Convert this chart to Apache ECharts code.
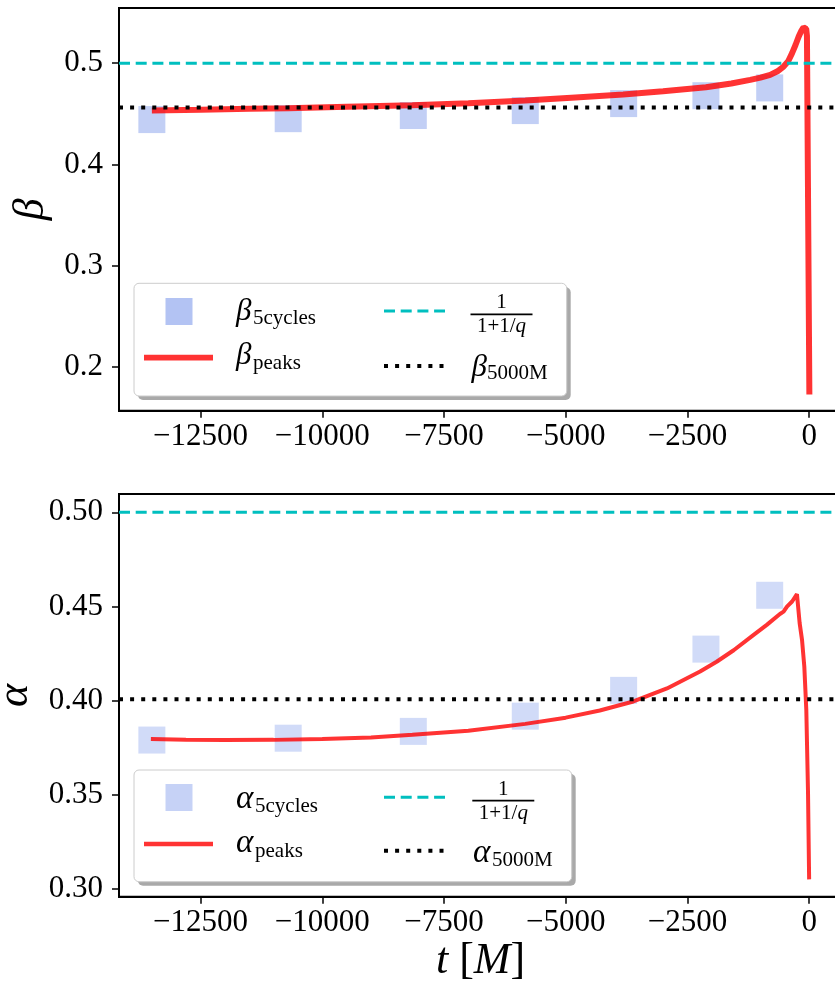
<!DOCTYPE html>
<html><head><meta charset="utf-8">
<script src="https://cdn.jsdelivr.net/npm/echarts@6/dist/echarts.min.js"></script>
<style>html,body{margin:0;padding:0;background:#fff}#c{width:835px;height:987px}</style>
</head><body><div id="c"></div>
<script>
// ---------------- data ----------------
const xTicks = [-12500, -10000, -7500, -5000, -2500, 0];
const betaTicks = [0.2, 0.3, 0.4, 0.5];
const alphaTicks = [0.30, 0.35, 0.40, 0.45, 0.50];

const tCycles = [-13500, -10700, -8130, -5830, -3810, -2120, -810];
const beta5cycles = [0.4443, 0.4452, 0.4483, 0.4532, 0.4601, 0.4679, 0.4756];
const alpha5cycles = [0.3790, 0.3800, 0.3836, 0.3917, 0.4054, 0.4273, 0.4559];

const tBetaPeaks = [-13500, -12500, -11500, -10700, -9500, -8150, -7000, -5830, -4800, -3820, -3000, -2120, -1600, -1210, -1000, -800, -650, -525, -430, -350, -280, -215, -160, -115, -85, -60, -45, 5];
const betaPeaks = [0.4532, 0.4540, 0.4549, 0.4556, 0.4570, 0.4585, 0.4605, 0.4632, 0.4662, 0.4690, 0.4722, 0.4763, 0.4800, 0.4835, 0.4858, 0.4885, 0.4920, 0.4967, 0.5020, 0.5100, 0.5180, 0.5263, 0.5320, 0.5355, 0.5362, 0.5340, 0.5270, 0.1726];

const tAlphaPeaks = [-13520, -12800, -12000, -11000, -10000, -9000, -8150, -7000, -5830, -5000, -4300, -3610, -2920, -2240, -1900, -1550, -1140, -870, -600, -525, -455, -350, -250, -195, -146, -99, -58, -23, 0];
const alphaPeaks = [0.3795, 0.3792, 0.3790, 0.3791, 0.3795, 0.3804, 0.3818, 0.3840, 0.3876, 0.3909, 0.3947, 0.3995, 0.4064, 0.4154, 0.4206, 0.4267, 0.4349, 0.4402, 0.4460, 0.4472, 0.4499, 0.4526, 0.4565, 0.4411, 0.4322, 0.4180, 0.3950, 0.3510, 0.3050];

const betaQ = 0.5, beta5000M = 0.4562;
const alphaQ = 0.5, alpha5000M = 0.4007;

// ---------------- styling ----------------
const SERIF = '"Liberation Serif", "Times New Roman", serif';
const X_MIN = -14175, X_MAX = 675;
const RED = 'rgba(255,0,0,0.8)', CYAN = '#00bfbf';
const SQ_TOP = 'rgba(65,105,225,0.4)', SQ_BOT = 'rgba(65,105,225,0.3)';
const minus = v => String(v).replace('-', '\u2212');

function xAxis(gi, withName) {
  const a = {
    type: 'value', gridIndex: gi, min: X_MIN, max: X_MAX,
    axisLine: { show: true, onZero: false, lineStyle: { color: '#000', width: 2 } },
    axisTick: { show: true, length: 7, customValues: xTicks, lineStyle: { color: '#000', width: 1.5 } },
    axisLabel: { customValues: xTicks, formatter: v => minus(v), fontFamily: SERIF, fontSize: 31, color: '#000', margin: 11 },
    splitLine: { show: false }
  };
  if (withName) {
    a.name = '{i|t} {r|[}{i|M}{r|]}';
    a.nameLocation = 'middle';
    a.nameGap = 35;
    a.nameTextStyle = {
      color: '#000', fontFamily: SERIF, fontSize: 44,
      rich: {
        i: { fontFamily: SERIF, fontStyle: 'italic', fontSize: 44, color: '#000' },
        r: { fontFamily: SERIF, fontSize: 44, color: '#000' }
      }
    };
  }
  return a;
}
function yAxis(gi, min, max, ticks, dec, name, gap) {
  return {
    type: 'value', gridIndex: gi, min, max,
    name, nameLocation: 'middle', nameGap: gap,
    nameTextStyle: { fontFamily: SERIF, fontStyle: 'italic', fontSize: 44, color: '#000' },
    axisLine: { show: true, onZero: false, lineStyle: { color: '#000', width: 2 } },
    axisTick: { show: true, length: 7, customValues: ticks, lineStyle: { color: '#000', width: 1.5 } },
    axisLabel: { customValues: ticks, formatter: v => v.toFixed(dec), fontFamily: SERIF, fontSize: 31, color: '#000', margin: 16 },
    splitLine: { show: false }
  };
}
function hline(xi, yi, v, color, width, dash, name) {
  return {
    type: 'line', name, xAxisIndex: xi, yAxisIndex: yi, silent: true,
    symbol: 'none', data: [[X_MIN, v], [X_MAX, v]],
    lineStyle: { color, width, type: dash, cap: 'butt' }
  };
}

// ---------------- legend (drawn as graphics) ----------------
function T(x, base, text, size, italic, align) {
  return {
    type: 'text', silent: true, z: 102,
    style: {
      text, x, y: base - 0.3375 * size,
      font: (italic ? 'italic ' : '') + size + 'px ' + SERIF,
      fill: '#000', align: align || 'left', verticalAlign: 'middle',
      textAlign: align || 'left', textVerticalAlign: 'middle'
    }
  };
}
function legend(c) {
  const els = [];
  els.push({ type: 'rect', silent: true, z: 100, shape: { x: c.bx + 4, y: c.by + 4, width: c.bw, height: c.bh, r: 5 }, style: { fill: '#a9a9a9' } });
  els.push({ type: 'rect', silent: true, z: 101, shape: { x: c.bx, y: c.by, width: c.bw, height: c.bh, r: 5 }, style: { fill: '#fff', stroke: '#cccccc', lineWidth: 1 } });
  els.push({ type: 'rect', silent: true, z: 102, shape: { x: 165.5, y: c.sqY, width: 27, height: 27 }, style: { fill: c.sq } });
  els.push({ type: 'line', silent: true, z: 102, shape: { x1: 144, y1: c.redY, x2: 213, y2: c.redY }, style: { stroke: RED, lineWidth: c.redW } });
  els.push({ type: 'line', silent: true, z: 102, shape: { x1: 384, y1: c.cyY, x2: 445, y2: c.cyY }, style: { stroke: CYAN, lineWidth: 3, lineDash: [11, 5.7] } });
  els.push({ type: 'line', silent: true, z: 102, shape: { x1: 384, y1: c.dotY, x2: 445, y2: c.dotY }, style: { stroke: '#000', lineWidth: 4, lineDash: [4, 7.1] } });
  els.push(T(236, c.l1, c.g, c.gs, true));
  els.push(T(c.subX, c.l1 + 3.5, '5cycles', 21, false));
  els.push(T(236, c.l2, c.g, c.gs, true));
  els.push(T(c.subX, c.l2 + 4.5, 'peaks', 21, false));
  els.push(T(c.fx, c.numB, '1', 21, false, 'center'));
  els.push({ type: 'line', silent: true, z: 102, shape: { x1: c.fx - 31, y1: c.barY, x2: c.fx + 31, y2: c.barY }, style: { stroke: '#000', lineWidth: 1.7 } });
  els.push({
    type: 'text', silent: true, z: 102,
    style: {
      text: '{r|1+1/}{i|q}', x: c.fx, y: c.denB - 0.3375 * 21,
      align: 'center', verticalAlign: 'middle', textAlign: 'center', textVerticalAlign: 'middle',
      font: '21px ' + SERIF, fill: '#000',
      rich: { r: { font: '21px ' + SERIF, fill: '#000' }, i: { font: 'italic 21px ' + SERIF, fill: '#000' } }
    }
  });
  els.push(T(c.g2x, c.l4, c.g, c.gs, true));
  els.push(T(c.sub2X, c.l4 + 3, '5000M', 21, false));
  return els;
}

const chart = echarts.init(document.getElementById('c'), null, { renderer: 'canvas' });
chart.setOption({
  animation: false,
  backgroundColor: '#fff',
  grid: [
    { left: 119, right: -7, top: 8, height: 402.7, show: true, borderColor: '#000', borderWidth: 2, backgroundColor: 'transparent', containLabel: false, outerBoundsMode: 'none' },
    { left: 119, right: -7, top: 494, height: 402.7, show: true, borderColor: '#000', borderWidth: 2, backgroundColor: 'transparent', containLabel: false, outerBoundsMode: 'none' }
  ],
  xAxis: [xAxis(0, false), xAxis(1, true)],
  yAxis: [
    yAxis(0, 0.1565, 0.5546, betaTicks, 1, '\u03B2', 64),
    yAxis(1, 0.2958, 0.5097, alphaTicks, 2, '\u03B1', 75)
  ],
  series: [
    { type: 'scatter', name: '\u03B2 5cycles', xAxisIndex: 0, yAxisIndex: 0, silent: true, symbol: 'rect', symbolSize: 27,
      itemStyle: { color: SQ_TOP }, data: tCycles.map((t, i) => [t, beta5cycles[i]]) },
    { type: 'line', name: '\u03B2 peaks', xAxisIndex: 0, yAxisIndex: 0, silent: true, symbol: 'none',
      lineStyle: { color: RED, width: 6 }, data: tBetaPeaks.map((t, i) => [t, betaPeaks[i]]) },
    hline(0, 0, betaQ, CYAN, 3, [11, 5.7], '1/(1+1/q)'),
    hline(0, 0, beta5000M, '#000', 4, [4, 7.1], '\u03B2 5000M'),

    { type: 'scatter', name: '\u03B1 5cycles', xAxisIndex: 1, yAxisIndex: 1, silent: true, symbol: 'rect', symbolSize: 27,
      itemStyle: { color: SQ_BOT }, data: tCycles.map((t, i) => [t, alpha5cycles[i]]) },
    { type: 'line', name: '\u03B1 peaks', xAxisIndex: 1, yAxisIndex: 1, silent: true, symbol: 'none',
      lineStyle: { color: RED, width: 4 }, data: tAlphaPeaks.map((t, i) => [t, alphaPeaks[i]]) },
    hline(1, 1, alphaQ, CYAN, 3, [11, 5.7], '1/(1+1/q) '),
    hline(1, 1, alpha5000M, '#000', 4, [4, 7.1], '\u03B1 5000M')
  ],
  graphic: legend({
    bx: 134, by: 283.3, bw: 432.7, bh: 112.7, sq: SQ_TOP, sqY: 298, gs: 31,
    redY: 357.7, redW: 5.7, cyY: 311, dotY: 366, g: '\u03B2', subX: 253,
    l1: 322, l2: 366.5, fx: 501.5, numB: 310, barY: 314.3, denB: 333.3,
    g2x: 471.5, l4: 378, sub2X: 487
  }).concat(legend({
    bx: 134, by: 770, bw: 437.7, bh: 111.7, sq: SQ_BOT, sqY: 784, gs: 33,
    redY: 844, redW: 4.3, cyY: 797.3, dotY: 850.7, g: '\u03B1', subX: 255,
    l1: 810, l2: 854.3, fx: 503.3, numB: 796.7, barY: 800.7, denB: 820.3,
    g2x: 473, l4: 864.5, sub2X: 492
  }))
});
</script>
</body></html>
